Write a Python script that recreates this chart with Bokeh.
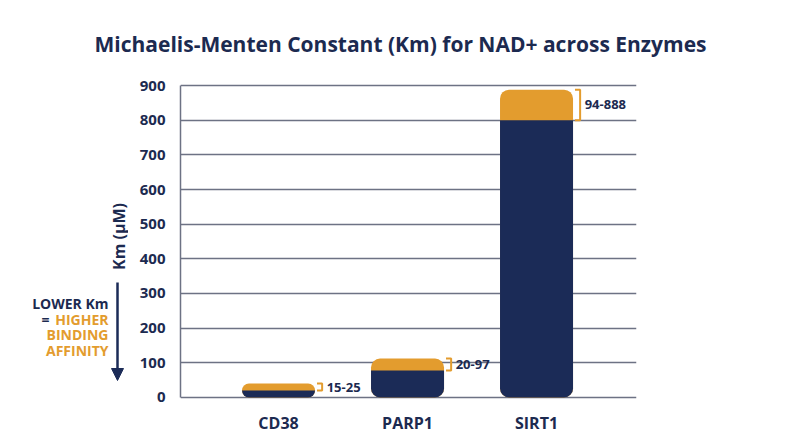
import math
from bokeh.plotting import figure
from bokeh.layouts import column, row
from bokeh.models import Range1d, Arrow, NormalHead, FixedTicker
from bokeh.core.properties import value
from bokeh.embed import file_html
from bokeh.resources import INLINE

# ---- data ----
categories = ["CD38", "PARP1", "SIRT1"]
base_values = [20, 78, 800]      # navy (lower) part of each bar
top_values = [40, 112, 888]      # orange top of each bar
range_labels = ["15-25", "20-97", "94-888"]
y_ticks = [0, 100, 200, 300, 400, 500, 600, 700, 800, 900]
title_text = "Michaelis-Menten Constant (Km) for NAD+ across Enzymes"
y_label = "Km (µM)"

NAVY = "#1b2b57"
ORANGE = "#e39c2e"
GRID = "#6d7284"
TEXT = "#1c2a50"
FONT = "Open Sans"

TITLE_H = 70
LEFT_W = 128
BODY_H = 447 - TITLE_H
FRAME_TOP = 83      # page px
FRAME_BOTTOM = 399  # page px


def blank(width, height, top=0, bottom=0, yr=None):
    f = figure(width=width, height=height, output_backend="svg", toolbar_location=None,
               x_range=Range1d(0, width), y_range=yr or Range1d(0, height),
               min_border=0, min_border_left=0, min_border_right=0,
               min_border_top=top, min_border_bottom=bottom)
    f.axis.visible = False
    f.grid.visible = False
    f.outline_line_color = None
    f.background_fill_color = "white"
    f.border_fill_color = "white"
    return f


# ---- title strip ----
tfig = blank(800, TITLE_H)
tfig.text(x=[400], y=[TITLE_H - 43], text=[title_text], text_font=value(FONT),
          text_font_style="bold", text_font_size="21px", text_color=TEXT,
          text_align="center", text_baseline="middle")

# ---- left annotation strip (frame aligned with the main frame) ----
lfig = blank(LEFT_W, BODY_H, top=FRAME_TOP - TITLE_H, bottom=447 - FRAME_BOTTOM,
             yr=Range1d(447 - FRAME_BOTTOM, 447 - FRAME_TOP))


def ly(page_y):
    return 447 - page_y


lfig.text(x=[118], y=[ly(236)], text=[y_label], angle=math.pi / 2,
          text_font=value(FONT), text_font_style="bold", text_font_size="16px",
          text_color=TEXT, text_align="center", text_baseline="middle")
ann_text = ["LOWER Km", "HIGHER", "BINDING", "AFFINITY"]
ann_col = [TEXT, ORANGE, ORANGE, ORANGE]
ann_y = [303, 319, 334, 350]
lfig.text(x=[108] * 4, y=[ly(v) for v in ann_y], text=ann_text, text_color=ann_col,
          text_font=value(FONT), text_font_style="bold", text_font_size="14px",
          text_align="right", text_baseline="middle")
lfig.text(x=[49], y=[ly(319)], text=["="], text_color=TEXT,
          text_font=value(FONT), text_font_style="bold", text_font_size="14px",
          text_align="right", text_baseline="middle")
lfig.add_layout(Arrow(end=NormalHead(size=12, fill_color=NAVY, line_color=NAVY),
                      x_start=117, y_start=ly(282), x_end=117, y_end=ly(380),
                      line_color=NAVY, line_width=2.5))

# ---- main chart ----
xs = [i + 0.5 for i in range(len(categories))]
bar_w = 0.566

p = figure(width=800 - LEFT_W, height=BODY_H, output_backend="svg", toolbar_location=None,
           x_range=Range1d(-0.26, 3.275), y_range=Range1d(-6, 906),
           min_border_left=180 - LEFT_W, min_border_right=164,
           min_border_top=FRAME_TOP - TITLE_H, min_border_bottom=447 - FRAME_BOTTOM)
p.outline_line_color = None
p.background_fill_color = "white"
p.border_fill_color = "white"
p.xgrid.grid_line_color = None
p.ygrid.ticker = FixedTicker(ticks=y_ticks)
p.ygrid.grid_line_color = GRID
p.ygrid.grid_line_width = 1.5

ya = p.yaxis[0]
ya.ticker = FixedTicker(ticks=y_ticks)
ya.bounds = (0, 900)
ya.axis_line_color = GRID
ya.axis_line_width = 1.5
ya.major_tick_line_color = None
ya.minor_tick_line_color = None
ya.major_label_text_font = FONT
ya.major_label_text_font_style = "bold"
ya.major_label_text_font_size = "15px"
ya.major_label_text_color = TEXT
ya.major_label_standoff = 9

xa = p.xaxis[0]
xa.ticker = FixedTicker(ticks=xs)
xa.major_label_overrides = {x: c for x, c in zip(xs, categories)}
xa.axis_line_color = None
xa.major_tick_line_color = None
xa.minor_tick_line_color = None
xa.major_label_text_font = FONT
xa.major_label_text_font_style = "bold"
xa.major_label_text_font_size = "16px"
xa.major_label_text_color = TEXT
xa.major_label_standoff = 6

# bars
p.vbar(x=xs, width=bar_w, bottom=0, top=top_values, fill_color=ORANGE,
       line_color=None, border_radius=9)
p.vbar(x=xs, width=bar_w, bottom=0, top=base_values, fill_color=NAVY,
       line_color=None, border_radius=(0, 0, 9, 9))

# brackets and range labels
bx0 = [x + bar_w / 2 + 0.015 for x in xs]
bx1 = [x + 0.04 for x in bx0]
br_xs = [[a, b, b, a] for a, b in zip(bx0, bx1)]
br_ys = [[t, t, b, b] for t, b in zip(top_values, base_values)]
p.multi_line(xs=br_xs, ys=br_ys, line_color=ORANGE, line_width=2)
p.text(x=[b + 0.035 for b in bx1],
       y=[(t + b) / 2 for t, b in zip(top_values, base_values)],
       text=range_labels, text_font=value(FONT), text_font_style="bold",
       text_font_size="13px", text_color=TEXT, text_align="left",
       text_baseline="middle")

layout = column(tfig, row(lfig, p, spacing=0), spacing=0)
open("out.html", "w").write(file_html(layout, INLINE))
